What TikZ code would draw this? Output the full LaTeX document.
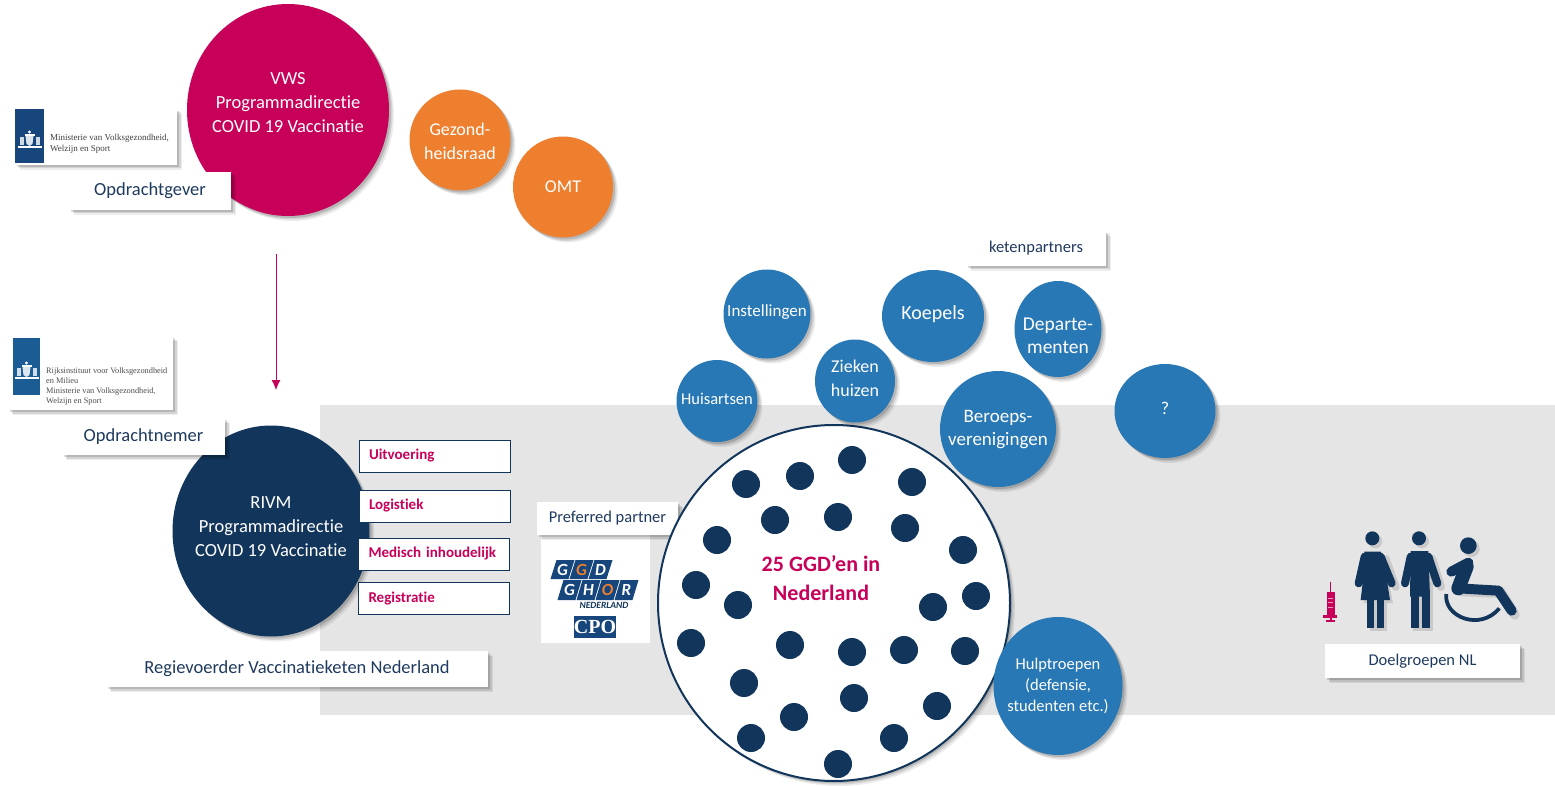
\documentclass[tikz,border=0pt]{standalone}
\usepackage{fontspec}
\setmainfont[Ligatures=NoCommon]{Carlito}
\newfontfamily\logofont{Liberation Serif}
\usetikzlibrary{shapes.geometric,shadows,arrows.meta}
\definecolor{pinkc}{HTML}{C70059}
\definecolor{orangec}{HTML}{EE7F2F}
\definecolor{bluec}{HTML}{2878B5}
\definecolor{navyc}{HTML}{12355B}
\definecolor{txtc}{HTML}{1F3A5F}
\definecolor{greyc}{HTML}{E5E5E5}
\definecolor{logoblue}{HTML}{17467C}
\definecolor{logoblueb}{HTML}{1C5C94}
\tikzset{
  x=1pt,y=-1pt,
  softshadow/.style={
    general shadow={fill=black,opacity=.07,shadow xshift=5pt,shadow yshift=-5pt},
    general shadow={fill=black,opacity=.10,shadow xshift=3.5pt,shadow yshift=-3.5pt},
    general shadow={fill=black,opacity=.14,shadow xshift=2pt,shadow yshift=-2pt}},
  blob/.style={ellipse,inner sep=0pt,softshadow,text=white,font=\fontsize{18}{24}\selectfont},
  labelbox/.style={rectangle,fill=white,softshadow,inner sep=0pt,text=txtc,align=center,font=\fontsize{18.5}{22}\selectfont},
  taskbox/.style={rectangle,fill=white,draw=navyc,line width=.8pt,inner xsep=10pt,inner ysep=0pt,text=pinkc,font=\fontsize{15}{18}\selectfont\bfseries,text width=131pt,align=left,minimum height=32pt},
  dot/.style={circle,fill=navyc,minimum size=28pt,inner sep=0pt},
  tile/.style={fill=logoblue},
  ggdl/.style={inner sep=0pt,font=\fontsize{17}{17}\selectfont\bfseries\itshape},
  crestpart/.style={fill=white},
  personpart/.style={navyc,line cap=round},
}
% centred text that does not enlarge the ellipse: #1 = rise of its centre
\newcommand{\bl}[2]{\makebox[0pt]{\raisebox{\dimexpr #1pt-.25em-2pt\relax}[0pt][0pt]{\begin{tabular}{@{}c@{}}#2\end{tabular}}}}
\newcommand{\crest}[2]{%
  \fill[crestpart] (#1,#2) circle[radius=1.6];
  \fill[crestpart] (#1-5,#2+2) rectangle (#1+5,#2+4);
  \fill[crestpart,opacity=.85] (#1-4,#2+4) -- (#1+4,#2+4) -- (#1+3,#2+12) -- (#1,#2+14) -- (#1-3,#2+12) -- cycle;
  \fill[crestpart,opacity=.8] (#1-10,#2+5) rectangle (#1-6,#2+13);
  \fill[crestpart,opacity=.8] (#1+6,#2+5) rectangle (#1+10,#2+13);
  \fill[crestpart] (#1-12,#2+14) rectangle (#1+12,#2+16);
}
\begin{document}
\begin{tikzpicture}
\useasboundingbox (0,0) rectangle (1555,786);
\fill[white] (0,0) rectangle (1555,786);
\fill[greyc] (320,405) rectangle (1555,715);

% arrow
\coordinate (arrowtop) at (276,254);
\coordinate (arrowend) at (276,390);
\draw[pinkc,line width=.9pt,-{Latex[length=10pt,width=9pt]}] (arrowtop) -- (arrowend);

% top logos and labels
\node[labelbox,minimum width=162pt,minimum height=56pt] (minlogo) at (96,137) {};
\fill[logoblue] (15,109) rectangle (44,163);
\crest{29.5}{132}
\node[anchor=west,inner sep=0pt,align=left,text=black!75,font=\logofont\fontsize{9}{11}\selectfont] (mintext) at (50,144) {Ministerie van Volksgezondheid,\\Welzijn en Sport};

\node[blob,fill=pinkc,minimum width=202pt,minimum height=212pt,font=\fontsize{18.5}{24}\selectfont] (vws) at (288,110) {\bl{9}{VWS\\Programmadirectie\\COVID 19 Vaccinatie}};
\node[labelbox,minimum width=162pt,minimum height=38pt] (opdrg) at (150,191) {Opdrachtgever};
\node[blob,fill=orangec,minimum width=101pt,minimum height=101pt] (gez) at (460,140) {\bl{-1}{Gezond-\\heidsraad}};
\node[blob,fill=orangec,minimum width=100pt,minimum height=101pt] (omt) at (563,187) {\bl{1}{OMT}};

% RIVM
\node[labelbox,minimum width=165pt,minimum height=74pt] (rivmlogo) at (90.5,373) {};
\fill[logoblueb] (13,338) rectangle (40,395);
\crest{26.5}{363}
\node[anchor=west,inner sep=0pt,align=left,text=black!70,font=\logofont\fontsize{8.3}{10}\selectfont] (rivmtext) at (46,387) {Rijksinstituut voor Volksgezondheid\\en Milieu\\Ministerie van Volksgezondheid,\\Welzijn en Sport};
\node[blob,fill=navyc,minimum width=197pt,minimum height=211pt,font=\fontsize{18.5}{24}\selectfont] (rivm) at (271,531) {\bl{6}{RIVM\\Programmadirectie\\COVID 19 Vaccinatie}};
\node[labelbox,minimum width=163pt,minimum height=37pt] (opdrn) at (143.5,436.5) {Opdrachtnemer};
\node[taskbox] (t1) at (434.5,456) {Uitvoering};
\node[taskbox] (t2) at (434.5,506) {Logistiek};
\node[taskbox] (t3) at (434,554) {\mbox{Medisch inhoudelijk}};
\node[taskbox] (t4) at (434,598.5) {Registratie};
\node[labelbox,minimum width=382pt,minimum height=36pt] (regie) at (297,669) {Regievoerder Vaccinatieketen Nederland};

% partner
\fill[white] (541,535) rectangle (650,643);
\node[labelbox,minimum width=141pt,minimum height=33pt,font=\fontsize{16.5}{20}\selectfont] (pref) at (607.5,518.5) {Preferred partner};
\foreach \x/\l/\c in {0/G/white,19/G/orangec,38/D/white}{
  \fill[tile] (556.5+\x,560) -- (574.5+\x,560) -- (568.5+\x,579) -- (550.5+\x,579) -- cycle;
  \node[ggdl,text=\c] at (562.5+\x,569.5) {\l};
}
\foreach \x/\l/\c in {0/G/white,19/H/white,38/O/orangec,57/R/white}{
  \fill[tile] (563.5+\x,580) -- (581.5+\x,580) -- (575.5+\x,600) -- (557.5+\x,600) -- cycle;
  \node[ggdl,text=\c] at (569.5+\x,590) {\l};
}
\node[inner sep=0pt,text=navyc,font=\fontsize{9.5}{9.5}\selectfont\bfseries\itshape] (ned) at (604,605) {NEDERLAND};
\node[fill=logoblue,text=white,inner sep=0pt,minimum width=42pt,minimum height=22pt,font=\logofont\fontsize{20}{20}\selectfont\bfseries] (cpo) at (595,627) {CPO};

% GGD circle
\node[ellipse,fill=white,draw=navyc,line width=2pt,minimum width=352pt,minimum height=356pt,inner sep=0pt,softshadow] (ggd) at (834,603) {};
\foreach \x/\y in {746/484,800/476,852/460,912/482,775/520,838/517,905/528,717/540,963/550,696/585,738/605,933/607,976/596,691/643,790/645,852/652,904/650,965/651,744/683,854/698,937/706,794/717,751/738,894/738,838/764}
  \node[dot] at (\x,\y) {};
\node[inner sep=0pt,align=center,text=pinkc,font=\fontsize{22}{29}\selectfont\bfseries] (ggdt) at (821,578) {25 GGD’en in\\Nederland};

% blue
\node[blob,fill=bluec,minimum width=87pt,minimum height=89pt,font=\fontsize{17}{22}\selectfont] (inst) at (767,314) {\bl{4}{Instellingen}};
\node[blob,fill=bluec,minimum width=102pt,minimum height=92pt,font=\fontsize{20}{24}\selectfont] (koep) at (933,316) {\bl{3}{Koepels}};
\node[blob,fill=bluec,minimum width=87pt,minimum height=96pt,font=\fontsize{19.5}{23}\selectfont] (dep) at (1058,329) {\bl{-7}{Departe-\\menten}};
\node[blob,fill=bluec,minimum width=80pt,minimum height=83pt] (zie) at (855,381) {\bl{3}{Zieken\\huizen}};
\node[blob,fill=bluec,minimum width=81pt,minimum height=82pt,font=\fontsize{16.5}{22}\selectfont] (hui) at (717,401) {\bl{3}{Huisartsen}};
\node[blob,fill=bluec,minimum width=116pt,minimum height=116pt,font=\fontsize{19}{23}\selectfont] (ber) at (998,429) {\bl{2}{Beroeps-\\verenigingen}};
\node[blob,fill=bluec,minimum width=101pt,minimum height=94pt] (q) at (1165,411) {\bl{3}{?}};
\node[blob,fill=bluec,minimum width=129pt,minimum height=138pt,font=\fontsize{16.5}{21}\selectfont] (hulp) at (1058,686) {\bl{2}{Hulptroepen\\(defensie,\\studenten etc.)}};
\node[labelbox,minimum width=140pt,minimum height=35pt,font=\fontsize{16.5}{20}\selectfont] (ket) at (1036,248.5) {ketenpartners};
\node[labelbox,minimum width=195pt,minimum height=34pt,font=\fontsize{16.5}{20}\selectfont] (doel) at (1422.5,661) {Doelgroepen NL};

% people
\begin{scope}[shift={(1310,520)},scale=1/3]
  % shadow
  \begin{scope}[shift={(9,9)},opacity=.12]
    \fill[black] (187,55) circle[radius=21];
    \fill[black] (327,55) circle[radius=21];
    \fill[black] (475,77) circle[radius=25];
    \fill[black] (165,97) -- (212,97) -- (240,240) -- (152,240) -- cycle;
    \fill[black] (300,97) rectangle (360,325);
    \fill[black] (170,240) rectangle (223,325);
    \draw[black,line width=10pt,line cap=round] (445,205) -- (565,210) -- (605,275);
    \draw[black,line width=8pt,line cap=round] (218,108) -- (248,192) (358,108) -- (384,192);
  \end{scope}
  % woman
  \fill[navyc] (187,55) circle[radius=21];
  \fill[navyc] (163,95) -- (212,95) -- (222,125) -- (240,240) -- (152,240) -- (165,125) -- cycle;
  \draw[personpart,line width=8pt] (164,110) -- (146,190);
  \draw[personpart,line width=8pt] (212,110) -- (245,190);
  \fill[navyc] (170,235) rectangle (193,325);
  \fill[navyc] (200,235) rectangle (223,325);
  % man
  \fill[navyc] (327,55) circle[radius=21];
  \fill[navyc] (302,93) -- (355,93) -- (360,230) -- (300,230) -- cycle;
  \draw[personpart,line width=8pt] (302,110) -- (285,190);
  \draw[personpart,line width=8pt] (355,110) -- (382,190);
  \fill[navyc] (304,225) rectangle (328,325);
  \fill[navyc] (335,225) rectangle (359,325);
  % wheelchair
  \fill[navyc] (475,77) circle[radius=25];
  \draw[personpart,line width=14pt] (470,140) -- (445,205);
  \draw[personpart,line width=10pt] (424,155) -- (475,128);
  \draw[personpart,line width=10pt] (445,205) -- (565,212);
  \draw[personpart,line width=10pt] (565,212) -- (605,272);
  \draw[navyc,line width=3.8pt] (409,222) .. controls (400,290) and (510,335) .. (568,265);
  % syringe
  \draw[pinkc,line width=1.2pt] (62,185) -- (62,215);
  \fill[pinkc] (50,215) rectangle (74,285);
  \fill[pinkc] (40,285) rectangle (82,293);
  \draw[pinkc,line width=2pt] (62,290) -- (62,303);
  \draw[pinkc,line width=2.2pt] (48,303) -- (76,303);
  \draw[white,opacity=.6,line width=.6pt] (54,235) -- (70,235) (54,248) -- (70,248) (54,261) -- (70,261);
\end{scope}
\end{tikzpicture}
\end{document}
